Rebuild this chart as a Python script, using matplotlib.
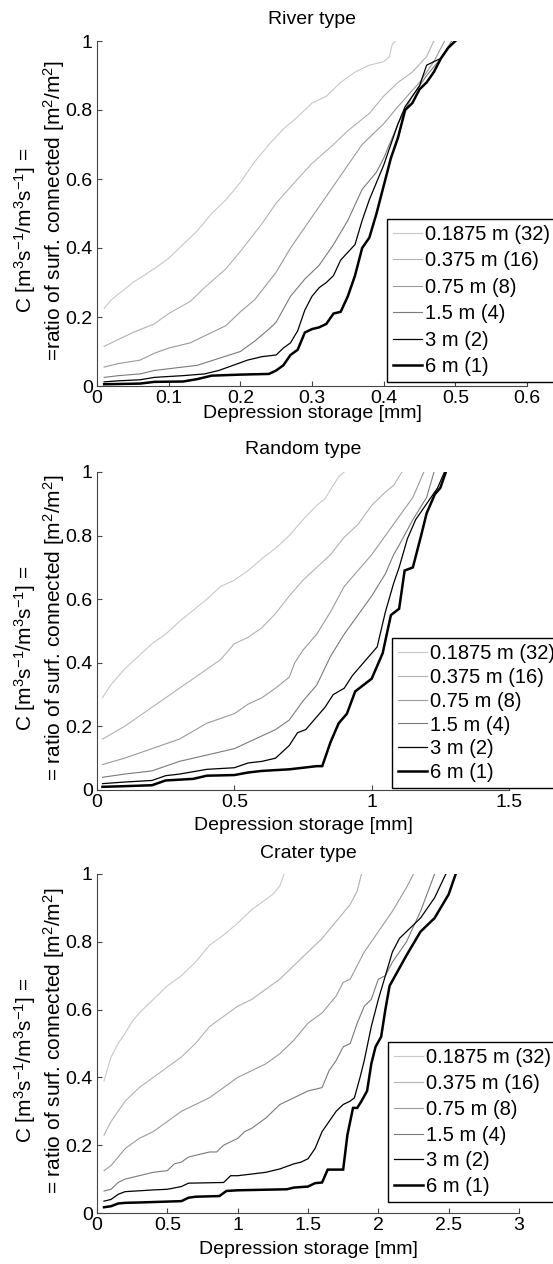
import numpy as np
import matplotlib
matplotlib.use('Agg')
import matplotlib.pyplot as plt

plt.rcParams['font.family'] = ['Liberation Sans', 'DejaVu Sans']
plt.rcParams['mathtext.fontset'] = 'custom'
plt.rcParams['mathtext.rm'] = 'Liberation Sans'
plt.rcParams['mathtext.it'] = 'Liberation Sans:italic'
plt.rcParams['mathtext.bf'] = 'Liberation Sans:bold'

labels = ['0.1875 m (32)', '0.375 m (16)', '0.75 m (8)', '1.5 m (4)', '3 m (2)', '6 m (1)']
colors = ['#c8c8c8', '#b2b2b2', '#9a9a9a', '#7a7a7a', '#000000', '#000000']
widths = [0.8, 0.8, 0.8, 0.8, 0.9, 1.8]

# ---- River type
river_x1 = [0.01, 0.02, 0.05, 0.08, 0.10, 0.12, 0.14, 0.16, 0.18, 0.20, 0.22, 0.24, 0.26, 0.28, 0.30, 0.32, 0.34, 0.36, 0.38, 0.40, 0.408, 0.412, 0.416]
river_y1 = [0.225, 0.25, 0.30, 0.34, 0.37, 0.41, 0.45, 0.50, 0.54, 0.59, 0.65, 0.70, 0.745, 0.78, 0.82, 0.84, 0.88, 0.91, 0.93, 0.94, 0.955, 0.99, 1.0]
river_x2 = [0.01, 0.03, 0.05, 0.08, 0.10, 0.13, 0.15, 0.18, 0.20, 0.23, 0.25, 0.28, 0.30, 0.33, 0.35, 0.38, 0.40, 0.42, 0.44, 0.46, 0.47]
river_y2 = [0.115, 0.135, 0.155, 0.18, 0.21, 0.245, 0.285, 0.34, 0.39, 0.47, 0.53, 0.60, 0.645, 0.70, 0.74, 0.79, 0.84, 0.88, 0.91, 0.955, 1.0]
river_x3 = [0.01, 0.03, 0.06, 0.08, 0.10, 0.13, 0.15, 0.18, 0.20, 0.22, 0.25, 0.27, 0.30, 0.33, 0.35, 0.37, 0.40, 0.42, 0.45, 0.47, 0.485]
river_y3 = [0.055, 0.065, 0.075, 0.095, 0.11, 0.125, 0.145, 0.175, 0.215, 0.25, 0.33, 0.40, 0.49, 0.58, 0.64, 0.70, 0.76, 0.81, 0.88, 0.94, 1.0]
river_x4 = [0.01, 0.03, 0.06, 0.08, 0.10, 0.14, 0.17, 0.20, 0.22, 0.24, 0.25, 0.27, 0.29, 0.31, 0.33, 0.35, 0.37, 0.39, 0.40, 0.42, 0.44, 0.46, 0.48, 0.495]
river_y4 = [0.025, 0.03, 0.035, 0.045, 0.05, 0.06, 0.08, 0.10, 0.13, 0.165, 0.185, 0.26, 0.31, 0.35, 0.41, 0.48, 0.57, 0.62, 0.66, 0.76, 0.84, 0.90, 0.95, 1.0]
river_x5 = [0.01, 0.03, 0.06, 0.08, 0.12, 0.15, 0.17, 0.19, 0.21, 0.23, 0.25, 0.26, 0.27, 0.28, 0.29, 0.30, 0.31, 0.32, 0.33, 0.34, 0.36, 0.37, 0.38, 0.39, 0.40, 0.41, 0.42, 0.43, 0.44, 0.45, 0.46, 0.47, 0.48, 0.49, 0.50]
river_y5 = [0.012, 0.015, 0.018, 0.025, 0.03, 0.035, 0.045, 0.06, 0.075, 0.085, 0.09, 0.11, 0.125, 0.16, 0.22, 0.26, 0.285, 0.30, 0.32, 0.365, 0.41, 0.48, 0.54, 0.59, 0.64, 0.70, 0.76, 0.81, 0.84, 0.87, 0.93, 0.94, 0.95, 0.98, 1.0]
river_x6 = [0.01, 0.06, 0.08, 0.12, 0.14, 0.16, 0.20, 0.24, 0.25, 0.26, 0.27, 0.28, 0.29, 0.30, 0.31, 0.32, 0.33, 0.34, 0.35, 0.36, 0.37, 0.38, 0.39, 0.40, 0.41, 0.42, 0.43, 0.44, 0.45, 0.46, 0.47, 0.48, 0.49, 0.50]
river_y6 = [0.005, 0.007, 0.012, 0.013, 0.02, 0.03, 0.033, 0.035, 0.045, 0.06, 0.09, 0.105, 0.155, 0.165, 0.17, 0.18, 0.21, 0.215, 0.26, 0.32, 0.40, 0.43, 0.50, 0.58, 0.66, 0.72, 0.80, 0.82, 0.86, 0.88, 0.91, 0.95, 0.98, 1.0]

# ---- Random type
random_x1 = [0.02, 0.05, 0.10, 0.15, 0.20, 0.25, 0.30, 0.35, 0.40, 0.45, 0.50, 0.55, 0.60, 0.65, 0.70, 0.75, 0.80, 0.83, 0.86, 0.88, 0.90]
random_y1 = [0.29, 0.33, 0.38, 0.42, 0.46, 0.49, 0.53, 0.565, 0.60, 0.64, 0.66, 0.69, 0.727, 0.76, 0.80, 0.85, 0.895, 0.916, 0.958, 0.985, 1.0]
random_x2 = [0.02, 0.10, 0.20, 0.30, 0.40, 0.45, 0.50, 0.55, 0.60, 0.65, 0.70, 0.75, 0.80, 0.85, 0.90, 0.95, 1.00, 1.05, 1.08, 1.11]
random_y2 = [0.16, 0.20, 0.26, 0.32, 0.38, 0.41, 0.46, 0.48, 0.51, 0.555, 0.61, 0.66, 0.70, 0.74, 0.795, 0.835, 0.895, 0.937, 0.958, 1.0]
random_x3 = [0.02, 0.10, 0.20, 0.30, 0.40, 0.50, 0.55, 0.60, 0.65, 0.70, 0.72, 0.75, 0.80, 0.85, 0.90, 0.95, 1.00, 1.05, 1.10, 1.15, 1.19]
random_y3 = [0.08, 0.10, 0.13, 0.16, 0.21, 0.24, 0.27, 0.29, 0.32, 0.355, 0.40, 0.44, 0.49, 0.56, 0.64, 0.69, 0.74, 0.80, 0.86, 0.92, 1.0]
random_x4 = [0.02, 0.10, 0.20, 0.30, 0.40, 0.50, 0.55, 0.60, 0.65, 0.70, 0.75, 0.80, 0.85, 0.90, 0.95, 1.00, 1.05, 1.08, 1.10, 1.15, 1.20, 1.227]
random_y4 = [0.04, 0.05, 0.06, 0.09, 0.11, 0.13, 0.15, 0.17, 0.19, 0.22, 0.28, 0.33, 0.42, 0.49, 0.55, 0.61, 0.68, 0.74, 0.77, 0.85, 0.92, 1.0]
random_x5 = [0.02, 0.10, 0.20, 0.25, 0.30, 0.40, 0.50, 0.55, 0.60, 0.65, 0.70, 0.73, 0.76, 0.80, 0.83, 0.86, 0.90, 0.93, 0.97, 1.00, 1.02, 1.05, 1.08, 1.10, 1.13, 1.16, 1.20, 1.24, 1.265]
random_y5 = [0.02, 0.025, 0.03, 0.045, 0.05, 0.065, 0.07, 0.085, 0.09, 0.10, 0.14, 0.18, 0.19, 0.23, 0.26, 0.30, 0.32, 0.36, 0.40, 0.43, 0.45, 0.56, 0.65, 0.70, 0.79, 0.85, 0.90, 0.95, 1.0]
random_x6 = [0.02, 0.10, 0.20, 0.25, 0.35, 0.40, 0.50, 0.55, 0.60, 0.70, 0.75, 0.80, 0.82, 0.85, 0.88, 0.91, 0.94, 0.97, 1.00, 1.04, 1.07, 1.10, 1.12, 1.15, 1.18, 1.20, 1.23, 1.25, 1.27]
random_y6 = [0.01, 0.012, 0.015, 0.03, 0.035, 0.045, 0.047, 0.055, 0.06, 0.065, 0.07, 0.075, 0.075, 0.15, 0.21, 0.24, 0.31, 0.33, 0.35, 0.43, 0.55, 0.57, 0.69, 0.70, 0.80, 0.87, 0.93, 0.95, 1.0]

# ---- Crater type
crater_x1 = [0.05, 0.10, 0.15, 0.20, 0.25, 0.30, 0.40, 0.50, 0.60, 0.70, 0.80, 0.90, 1.00, 1.10, 1.20, 1.25, 1.30, 1.33]
crater_y1 = [0.39, 0.46, 0.50, 0.53, 0.565, 0.59, 0.63, 0.67, 0.70, 0.74, 0.79, 0.82, 0.855, 0.895, 0.925, 0.94, 0.965, 1.0]
crater_x2 = [0.05, 0.10, 0.20, 0.30, 0.40, 0.50, 0.60, 0.70, 0.80, 0.90, 1.00, 1.10, 1.20, 1.30, 1.40, 1.50, 1.60, 1.70, 1.80, 1.85, 1.88]
crater_y2 = [0.23, 0.27, 0.33, 0.37, 0.40, 0.43, 0.46, 0.50, 0.55, 0.58, 0.61, 0.63, 0.66, 0.69, 0.73, 0.77, 0.81, 0.86, 0.91, 0.95, 1.0]
crater_x3 = [0.05, 0.10, 0.20, 0.30, 0.40, 0.50, 0.60, 0.70, 0.80, 0.90, 1.00, 1.10, 1.20, 1.30, 1.40, 1.50, 1.60, 1.70, 1.75, 1.80, 1.85, 1.90, 2.00, 2.10, 2.20, 2.25]
crater_y3 = [0.125, 0.14, 0.19, 0.22, 0.24, 0.27, 0.30, 0.32, 0.34, 0.37, 0.40, 0.42, 0.44, 0.47, 0.51, 0.56, 0.59, 0.64, 0.68, 0.69, 0.73, 0.77, 0.83, 0.89, 0.96, 1.0]
crater_x4 = [0.05, 0.10, 0.15, 0.20, 0.30, 0.40, 0.50, 0.55, 0.60, 0.65, 0.80, 0.85, 0.90, 1.00, 1.05, 1.10, 1.20, 1.30, 1.40, 1.50, 1.60, 1.65, 1.70, 1.75, 1.80, 1.85, 1.90, 1.95, 2.00, 2.05, 2.10, 2.20, 2.30, 2.40]
crater_y4 = [0.065, 0.07, 0.09, 0.10, 0.11, 0.12, 0.125, 0.145, 0.15, 0.165, 0.18, 0.18, 0.20, 0.22, 0.24, 0.25, 0.28, 0.32, 0.34, 0.36, 0.37, 0.42, 0.45, 0.49, 0.50, 0.56, 0.61, 0.63, 0.69, 0.70, 0.74, 0.80, 0.89, 1.0]
crater_x5 = [0.05, 0.10, 0.15, 0.20, 0.40, 0.50, 0.60, 0.65, 0.90, 0.95, 1.00, 1.20, 1.30, 1.40, 1.45, 1.50, 1.55, 1.60, 1.65, 1.70, 1.75, 1.80, 1.83, 1.87, 1.90, 1.95, 2.00, 2.05, 2.10, 2.15, 2.20, 2.30, 2.40, 2.48]
crater_y5 = [0.035, 0.04, 0.055, 0.063, 0.068, 0.07, 0.078, 0.088, 0.09, 0.11, 0.11, 0.12, 0.13, 0.145, 0.15, 0.16, 0.19, 0.24, 0.27, 0.30, 0.32, 0.33, 0.34, 0.40, 0.45, 0.55, 0.63, 0.70, 0.77, 0.81, 0.83, 0.87, 0.93, 1.0]
crater_x6 = [0.05, 0.10, 0.15, 0.20, 0.30, 0.60, 0.65, 0.70, 0.87, 0.92, 1.00, 1.35, 1.40, 1.50, 1.55, 1.60, 1.64, 1.75, 1.78, 1.82, 1.85, 1.88, 1.92, 1.95, 1.98, 2.02, 2.05, 2.08, 2.12, 2.20, 2.30, 2.40, 2.50, 2.55]
crater_y6 = [0.017, 0.02, 0.028, 0.03, 0.031, 0.035, 0.045, 0.048, 0.05, 0.065, 0.067, 0.07, 0.075, 0.078, 0.088, 0.09, 0.128, 0.128, 0.23, 0.31, 0.31, 0.33, 0.36, 0.44, 0.49, 0.52, 0.60, 0.67, 0.70, 0.76, 0.83, 0.87, 0.94, 1.0]

panels = [
    dict(title='River type', xs=[river_x1, river_x2, river_x3, river_x4, river_x5, river_x6],
         ys=[river_y1, river_y2, river_y3, river_y4, river_y5, river_y6],
         xlim=0.6, xticks=[0, 0.1, 0.2, 0.3, 0.4, 0.5, 0.6],
         xticklabels=['0', '0.1', '0.2', '0.3', '0.4', '0.5', '0.6'],
         ylab2='=ratio of surf. connected [m$^{2}$/m$^{2}$]',
         box=(97, 41, 527, 386), title_y=19, xlab_y=414, leg=(387, 219), lsp=0.37),
    dict(title='Random type', xs=[random_x1, random_x2, random_x3, random_x4, random_x5, random_x6],
         ys=[random_y1, random_y2, random_y3, random_y4, random_y5, random_y6],
         xlim=1.5, xticks=[0, 0.5, 1, 1.5], xticklabels=['0', '0.5', '1', '1.5'],
         ylab2='= ratio of surf. connected [m$^{2}$/m$^{2}$]',
         box=(97, 472, 509, 790), title_y=450, xlab_y=826, leg=(392, 638), lsp=0.24),
    dict(title='Crater type', xs=[crater_x1, crater_x2, crater_x3, crater_x4, crater_x5, crater_x6],
         ys=[crater_y1, crater_y2, crater_y3, crater_y4, crater_y5, crater_y6],
         xlim=3, xticks=[0, 0.5, 1, 1.5, 2, 2.5, 3],
         xticklabels=['0', '0.5', '1', '1.5', '2', '2.5', '3'],
         ylab2='= ratio of surf. connected [m$^{2}$/m$^{2}$]',
         box=(97, 874, 519, 1213), title_y=853, xlab_y=1249, leg=(388, 1042), lsp=0.34),
]

W, H = 553, 1264
fig = plt.figure(figsize=(W / 100, H / 100), dpi=100)
fs = 14

for p in panels:
    x0, y0, x1, y1 = p['box']
    ax = fig.add_axes([x0 / W, 1 - y1 / H, (x1 - x0) / W, (y1 - y0) / H])
    for xs, ys, c, lw, lab in zip(p['xs'], p['ys'], colors, widths, labels):
        ax.plot(xs, ys, color=c, lw=lw, label=lab, solid_joinstyle='miter')
    ax.set_xlim(0, p['xlim'])
    ax.set_ylim(0, 1)
    ax.set_xticks(p['xticks'])
    ax.set_xticklabels(p['xticklabels'])
    ax.set_yticks([0, 0.2, 0.4, 0.6, 0.8, 1])
    ax.set_yticklabels(['0', '0.2', '0.4', '0.6', '0.8', '1'])
    for s in ['top', 'right']:
        ax.spines[s].set_visible(False)
    for s in ['left', 'bottom']:
        ax.spines[s].set_color('#444444')
        ax.spines[s].set_linewidth(0.8)
    ax.tick_params(direction='in', length=3.5, width=0.8, color='#444444',
                   labelsize=fs, pad=3)
    ax.patch.set_alpha(0)

    cx = (x0 + x1) / 2 / W
    cy = (y0 + y1) / 2
    fig.text(cx, 1 - p['title_y'] / H, p['title'], ha='center', va='center', fontsize=fs)
    fig.text(cx, 1 - p['xlab_y'] / H, 'Depression storage [mm]', ha='center', va='center', fontsize=fs)
    # two-line y label, placed line by line
    fig.text(25 / W, 1 - (cy + 17) / H, 'C [m$^{3}$s$^{-1}$/m$^{3}$s$^{-1}$] =',
             rotation=90, ha='center', va='center', fontsize=15)
    fig.text(54 / W, 1 - (cy - 3) / H, p['ylab2'],
             rotation=90, ha='center', va='center', fontsize=15)

    lx, ly = p['leg']
    leg = ax.legend(loc='upper left', bbox_to_anchor=(lx / W, 1 - ly / H),
                    bbox_transform=fig.transFigure, borderaxespad=0,
                    fontsize=14.5, handlelength=1.45, handletextpad=0.15,
                    labelspacing=p['lsp'], borderpad=0.3, fancybox=False,
                    framealpha=1, edgecolor='black')
    leg.get_frame().set_linewidth(1.0)

fig.savefig('out.png', dpi=100)
